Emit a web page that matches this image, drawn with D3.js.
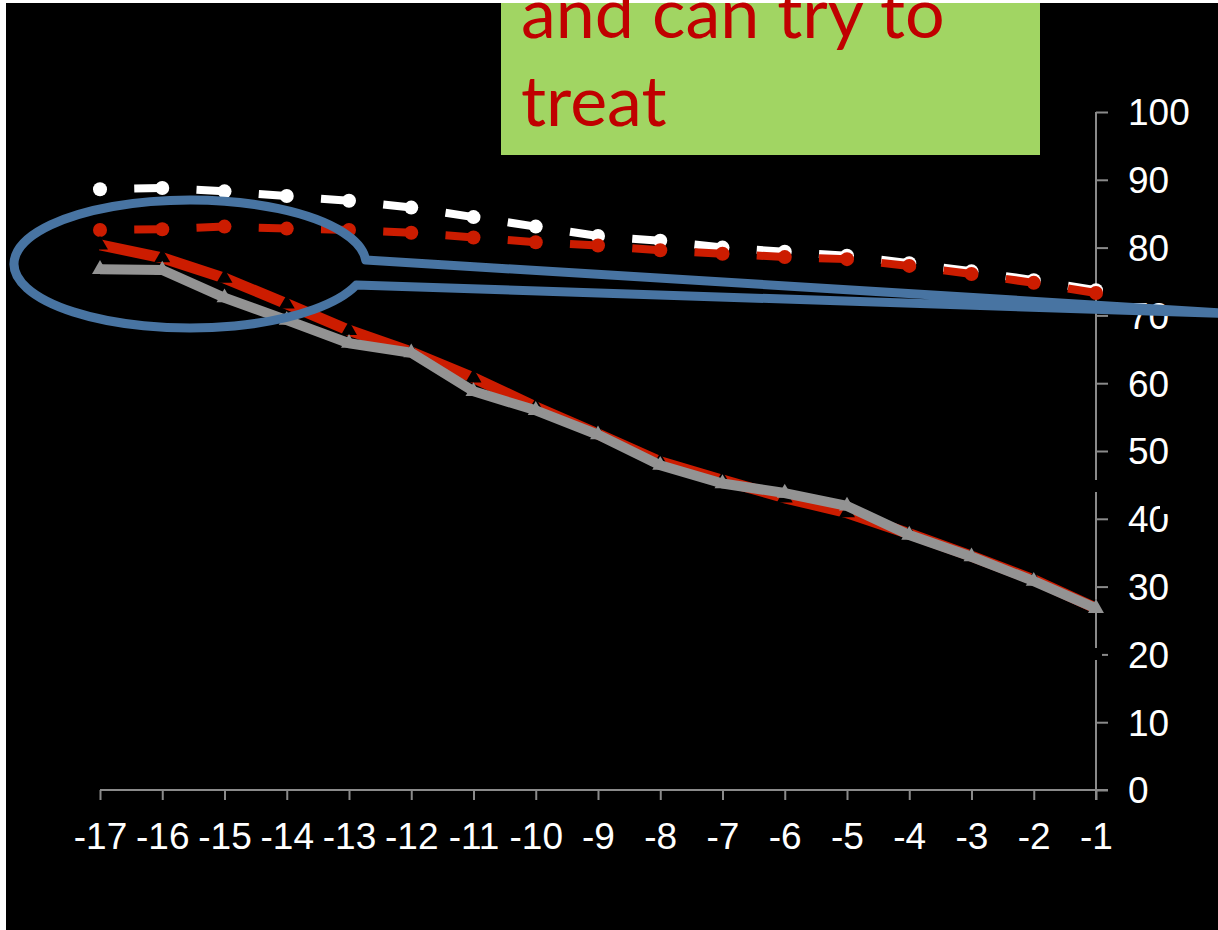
<!DOCTYPE html>
<html>
<head>
<meta charset="utf-8">
<script src="https://cdn.jsdelivr.net/npm/d3@7"></script>
<style>
  html, body { margin: 0; padding: 0; background: #ffffff; }
  svg { display: block; }
</style>
</head>
<body>
<svg id="chart" width="1218" height="930"></svg>
<script>
// ---- data ----
const years = [-17,-16,-15,-14,-13,-12,-11,-10,-9,-8,-7,-6,-5,-4,-3,-2,-1];
const whiteDashed = [88.6,88.8,88.3,87.6,86.9,85.9,84.5,83.1,81.7,81.0,80.0,79.4,78.8,77.7,76.5,75.2,73.7];
const redDashed   = [82.6,82.7,83.1,82.8,82.6,82.2,81.5,80.8,80.3,79.6,79.1,78.6,78.3,77.3,76.1,74.8,73.3];
const redSolid    = [80.4,78.5,75.5,71.7,67.8,64.6,60.8,56.5,52.5,48.4,45.7,43.1,40.9,37.8,34.5,31.0,26.8];
const graySolid   = [76.8,76.7,72.6,69.3,65.9,64.5,58.8,56.0,52.4,47.9,45.2,43.8,41.9,37.6,34.4,30.8,26.8];
const yTicks = [0,10,20,30,40,50,60,70,80,90,100];
const xTickLabels = years.map(String);
const calloutLines = ["and can try to", "treat"];

// ---- setup ----
const svg = d3.select("#chart");
const W = 1218, H = 930;
const RED = "#CC1C00", GRAY = "#939393", BLUE = "#4874A2", AXIS = "#8a8a8a";

svg.append("rect").attr("x", 6).attr("y", 3).attr("width", W - 6).attr("height", H - 3).attr("fill", "#000");

const x = d3.scalePoint().domain(years).range([100, 1096]);
const y = d3.scaleLinear().domain([0, 100]).range([790, 112]);

// ---- axes ----
const xAxis = d3.axisBottom(x).tickSize(10).tickSizeOuter(0).tickFormat((d, i) => xTickLabels[i]);
const gx = svg.append("g").attr("transform", "translate(0,790)").call(xAxis);
gx.select(".domain").attr("stroke", AXIS).attr("stroke-width", 2).attr("d", "M100,0H1108");
gx.selectAll(".tick line").attr("stroke", AXIS).attr("stroke-width", 2);
gx.selectAll(".tick text").attr("fill", "#fff").attr("font-family", "Liberation Sans, Arial, sans-serif")
  .attr("font-size", 37).attr("dy", null).attr("y", 59);

const yAxis = d3.axisRight(y).tickValues(yTicks).tickSize(12).tickSizeOuter(0).tickFormat(d3.format("d"));
const gy = svg.append("g").attr("transform", "translate(1096,0)").call(yAxis);
gy.select(".domain").attr("stroke", AXIS).attr("stroke-width", 2).attr("d", "M0,112V800");
gy.selectAll(".tick line").attr("stroke", AXIS).attr("stroke-width", 2);
gy.selectAll(".tick text").attr("fill", "#fff").attr("font-family", "Liberation Sans, Arial, sans-serif")
  .attr("font-size", 37).attr("x", 32).attr("dy", "0.35em").attr("text-anchor", "start");

// small occlusions seen on the axis
svg.append("rect").attr("x", 1088).attr("y", 480).attr("width", 14).attr("height", 12).attr("fill", "#000");
svg.append("rect").attr("x", 1088).attr("y", 648).attr("width", 14).attr("height", 12).attr("fill", "#000");
svg.append("rect").attr("x", 1160).attr("y", 500).attr("width", 12).attr("height", 14).attr("fill", "#000");

// ---- dashed series with circle markers ----
function dashedSeries(vals, color) {
  const g = svg.append("g");
  const pts = years.map((yr, i) => [x(yr), y(vals[i])]);
  for (let i = 1; i < pts.length; i++) {
    const p = g.append("path").attr("d", d3.line()([pts[i-1], pts[i]]))
      .attr("stroke", color).attr("stroke-width", 8).attr("fill", "none");
    const len = p.node().getTotalLength();
    p.attr("stroke-dasharray", `0 ${len * 0.55} ${len}`);
  }
  g.selectAll("circle").data(pts).join("circle")
    .attr("cx", d => d[0]).attr("cy", d => d[1]).attr("r", 7).attr("fill", color);
}
dashedSeries(whiteDashed, "#ffffff");
dashedSeries(redDashed, RED);

// ---- solid series ----
const line = d3.line().x((d, i) => x(years[i])).y(d => y(d));
const tri = d3.symbol().type(d3.symbolTriangle).size(110);

svg.append("path").datum(redSolid).attr("d", line).attr("stroke", RED).attr("stroke-width", 11)
  .attr("fill", "none").attr("stroke-linejoin", "bevel");
svg.append("g").selectAll("path").data(redSolid).join("path")
  .attr("d", tri).attr("transform", (d, i) => `translate(${x(years[i])},${y(d)})`).attr("fill", "#000");

svg.append("path").datum(graySolid).attr("d", line).attr("stroke", GRAY).attr("stroke-width", 10)
  .attr("fill", "none").attr("stroke-linejoin", "bevel");
svg.append("g").selectAll("path").data(graySolid).join("path")
  .attr("d", tri).attr("transform", (d, i) => `translate(${x(years[i])},${y(d)})`).attr("fill", GRAY);

// ---- callout ellipse with tail ----
const cx = 190, cy = 264, rx = 176, ry = 64;
const yU = 260, yL = 285;
const xU = cx + rx * Math.sqrt(1 - ((yU - cy) / ry) ** 2);
const xL = cx + rx * Math.sqrt(1 - ((yL - cy) / ry) ** 2);
const tip = [1240, 314];
svg.append("path")
  .attr("d", `M${xU},${yU} A${rx},${ry} 0 1 0 ${xL},${yL} L${tip[0]},${tip[1]} Z`)
  .attr("fill", "none").attr("stroke", BLUE).attr("stroke-width", 9).attr("stroke-linejoin", "round");

// ---- green text box ----
svg.append("rect").attr("x", 501).attr("y", 3).attr("width", 539).attr("height", 152).attr("fill", "#A1D563");
svg.append("g").selectAll("text").data(calloutLines).join("text")
  .attr("x", 521).attr("y", (d, i) => 38 + i * 88)
  .attr("fill", "#C00000").attr("font-family", "Lato, 'Open Sans', sans-serif").attr("font-size", 70)
  .text(d => d);
</script>
</body>
</html>
